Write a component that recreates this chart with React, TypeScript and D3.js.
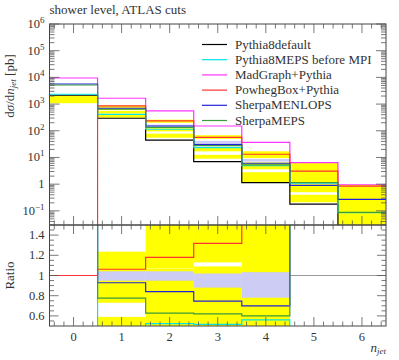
import React from "react";
import * as d3 from "d3";

// ---------- data ----------
const bins = [0, 1, 2, 3, 4, 5, 6];
const seriesNames = [
  "Pythia8default",
  "Pythia8MEPS before MPI",
  "MadGraph+Pythia",
  "PowhegBox+Pythia",
  "SherpaMENLOPS",
  "SherpaMEPS",
];
const seriesColors = ["#000000", "#00e6e6", "#ff33ff", "#ff3333", "#2222dd", "#3d9a3d"];

const pythia8default = [2140, 294, 45, 7.0, 1.14, 0.18, 0];
const pythia8meps = [2330, 415, 114, 23.3, 4.9, 1.1, 0.085];
const madgraph = [9500, 1650, 552, 151, 36.5, 6.4, 0.95];
const powheg = [0, 850, 233, 57, 13.2, 3.1, 0.85];
const sherpaMenlops = [5660, 697, 151, 31, 6.07, 0.9, 0.27];
const sherpaMeps = [5190, 639, 135, 28, 5.24, 1.14, 0.087];

// main-panel uncertainty bands, [lo, hi] per bin
const mainYellow1: ([number, number] | null)[] = [[1080, 2050], [600, 880], [200, 260], [50, 68], [9.5, 17], [1.2, 6.4], [0.02, 0.95]];
const mainYellow2: ([number, number] | null)[] = [null, [440, 560], [95, 125], [17, 24], [3.6, 6.5], [0.5, 1.0], null];
const mainYellow3: ([number, number] | null)[] = [null, [310, 400], [55, 78], [9, 12.5], [1.2, 2.8], [0.21, 0.4], null];
const mainLavender: ([number, number] | null)[] = [null, [650, 720], [140, 170], [35, 42], [7, 8.8], null, null];

// ratio panel (values outside 0.5..1.5 are clipped)
const ratioPythia8meps = [2, 0.48, 0.524, 0.517, 0.56, 0, 0];
const ratioPowheg = [1, 1.062, 1.18, 1.318, 2, 2, 2];
const ratioSherpaMenlops = [2, 0.928, 0.84, 0.747, 0.7, 2, 2];
const ratioSherpaMeps = [2, 0.776, 0.628, 0.62, 0.6, 2, 2];
const ratioReference: (number | null)[] = [null, null, null, null, null, 1, 1];
const ratioYellow1: ([number, number] | null)[] = [null, [0.73, 1.236], [0.4, 1.064], [0.4, 1.09], [0.4, 1.6], null, null];
const ratioYellow2: ([number, number] | null)[] = [null, [0.4, 0.59], [1.068, 1.6], [1.13, 1.6], null, null, null];
const ratioLavender: ([number, number] | null)[] = [null, [0.948, 1.042], [0.948, 1.042], [0.88, 1.02], [0.78, 1.033], null, null];

const mainDecades = [-1, 0, 1, 2, 3, 4, 5, 6];
const ratioTickLabels = [0.6, 0.8, 1, 1.2, 1.4];

// ---------- layout ----------
const W = 399, H = 360;
const L = 49.5, R = 386;
const mainTop = 24, mainBottom = 225, ratioBottom = 326;
const FONT = "Liberation Serif, Times New Roman, serif";

const x = d3.scaleLinear().domain([-0.5, 6.5]).range([L, R]);
const yMain = d3.scaleLog().domain([Math.pow(10, -1.53), 1e6]).range([mainBottom, mainTop]);
const yRatio = d3.scaleLinear().domain([0.5, 1.5]).range([ratioBottom, mainBottom]);

function stepPath(vals: number[], y: (v: number) => number) {
  let d = "";
  vals.forEach((v, i) => {
    const x0 = x(bins[i] - 0.5), x1 = x(bins[i] + 0.5);
    const yy = y(v);
    d += (i === 0 ? `M${x0},${yy}` : `L${x0},${yy}`) + `L${x1},${yy}`;
  });
  return d;
}
const yMainSafe = (v: number) => (v > 0 ? yMain(v) : mainBottom + 50);
const yRatioSafe = (v: number) => Math.max(mainBottom - 50, Math.min(ratioBottom + 50, yRatio(v)));

function bandRects(band: ([number, number] | null)[], y: (v: number) => number, fill: string, key: string) {
  return band.map((b, i) =>
    b ? (
      <rect key={key + i} x={x(bins[i] - 0.5)} width={x(bins[i] + 0.5) - x(bins[i] - 0.5)}
        y={y(b[1])} height={y(b[0]) - y(b[1])} fill={fill} />
    ) : null
  );
}

export default function App() {
  const mainSeries = [pythia8default, pythia8meps, madgraph, powheg, sherpaMenlops, sherpaMeps];
  const ratioSeries: [number[], string][] = [
    [ratioPythia8meps, seriesColors[1]],
    [ratioPowheg, seriesColors[3]],
    [ratioSherpaMenlops, seriesColors[4]],
    [ratioSherpaMeps, seriesColors[5]],
  ];

  // ticks
  const xMinor = d3.range(-0.4, 6.5, 0.2).filter((t) => Math.abs(t - Math.round(t)) > 0.01);
  const xMajor = d3.range(0, 7, 1);
  const yMinor: number[] = [];
  for (let dd = -2; dd < 6; dd++) for (let k = 2; k <= 9; k++) {
    const v = k * Math.pow(10, dd);
    if (v > yMain.domain()[0] && v < 1e6) yMinor.push(v);
  }
  const rMinor = d3.range(0.55, 1.5, 0.05).filter((t) => Math.abs(t * 5 - Math.round(t * 5)) > 0.01);
  const rMajor = d3.range(0.6, 1.5, 0.2);

  const tickColor = "#555";
  const xTicks = (yEdge: number, dir: number, key: string) => (
    <g key={key} stroke={tickColor} strokeWidth={0.8}>
      {xMajor.map((t) => <line key={"M" + t} x1={x(t)} x2={x(t)} y1={yEdge} y2={yEdge + dir * 9} />)}
      {xMinor.map((t) => <line key={"m" + t} x1={x(t)} x2={x(t)} y1={yEdge} y2={yEdge + dir * 4.5} />)}
    </g>
  );

  const legendY0 = 44.5, legendDy = 15.2;
  const txt = "#333";

  return (
    <svg width={W} height={H} style={{ position: "absolute", left: 0, top: 0, background: "#fff", fontFamily: FONT }}>
      <defs>
        <clipPath id="clipMain"><rect x={L} y={mainTop} width={R - L} height={mainBottom - mainTop} /></clipPath>
        <clipPath id="clipRatio"><rect x={L} y={mainBottom} width={R - L} height={ratioBottom - mainBottom} /></clipPath>
      </defs>

      <text x={L} y={14} fontSize={13} fill={txt}>shower level, ATLAS cuts</text>

      {/* main panel */}
      <g clipPath="url(#clipMain)">
        {bandRects(mainYellow1, yMain, "#ffff00", "a")}
        {bandRects(mainYellow2, yMain, "#ffff00", "b")}
        {bandRects(mainYellow3, yMain, "#ffff00", "c")}
        {bandRects(mainLavender, yMain, "#ccccf4", "d")}
        {mainSeries.map((s, i) => (
          <path key={"s" + i} d={stepPath(s, yMainSafe)} fill="none" stroke={seriesColors[i]} strokeWidth={1.2} />
        ))}
      </g>

      {/* ratio panel */}
      <g clipPath="url(#clipRatio)">
        {bandRects(ratioYellow1, yRatio, "#ffff00", "ra")}
        {bandRects(ratioYellow2, yRatio, "#ffff00", "rb")}
        {bandRects(ratioLavender, yRatio, "#ccccf4", "rc")}
        {ratioReference.map((v, i) => v === null ? null : (
          <line key={"ref" + i} x1={x(bins[i] - 0.5)} x2={x(bins[i] + 0.5)} y1={yRatio(v)} y2={yRatio(v)} stroke="#999" strokeWidth={1} />
        ))}
        {ratioSeries.map(([s, c], i) => (
          <path key={"r" + i} d={stepPath(s, yRatioSafe)} fill="none" stroke={c} strokeWidth={1.2} />
        ))}
      </g>

      {/* frames */}
      <rect x={L} y={mainTop} width={R - L} height={mainBottom - mainTop} fill="none" stroke="#444" strokeWidth={1} />
      <rect x={L} y={mainBottom} width={R - L} height={ratioBottom - mainBottom} fill="none" stroke="#444" strokeWidth={1} />

      {/* x ticks */}
      {xTicks(mainTop, 1, "t1")}
      {xTicks(mainBottom, -1, "t2")}
      {xTicks(mainBottom, 1, "t3")}
      {xTicks(ratioBottom, -1, "t4")}

      {/* y ticks */}
      <g stroke={tickColor} strokeWidth={0.8}>
        {mainDecades.map((dd) => (
          <g key={"yd" + dd}>
            <line x1={L} x2={L + 10} y1={yMain(Math.pow(10, dd))} y2={yMain(Math.pow(10, dd))} />
            <line x1={R} x2={R - 10} y1={yMain(Math.pow(10, dd))} y2={yMain(Math.pow(10, dd))} />
          </g>
        ))}
        {yMinor.map((v, i) => (
          <g key={"ym" + i}>
            <line x1={L} x2={L + 5} y1={yMain(v)} y2={yMain(v)} />
            <line x1={R} x2={R - 5} y1={yMain(v)} y2={yMain(v)} />
          </g>
        ))}
        {rMajor.map((t) => (
          <g key={"rM" + t}>
            <line x1={L} x2={L + 9} y1={yRatio(t)} y2={yRatio(t)} />
            <line x1={R} x2={R - 9} y1={yRatio(t)} y2={yRatio(t)} />
          </g>
        ))}
        {rMinor.map((t) => (
          <g key={"rm" + t}>
            <line x1={L} x2={L + 4.5} y1={yRatio(t)} y2={yRatio(t)} />
            <line x1={R} x2={R - 4.5} y1={yRatio(t)} y2={yRatio(t)} />
          </g>
        ))}
      </g>

      {/* main y tick labels */}
      <g fontSize={12.5} fill={txt} textAnchor="end">
        {mainDecades.map((dd) => (
          <text key={"yl" + dd} x={L - 5} y={yMain(Math.pow(10, dd)) + 4}>
            {dd === 0 ? "1" : (
              <>
                10<tspan fontSize={9} dy={-5}>{dd === -1 ? "\u22121" : String(dd)}</tspan>
              </>
            )}
          </text>
        ))}
      </g>

      {/* ratio y tick labels */}
      <g fontSize={12.5} fill={txt} textAnchor="end">
        {ratioTickLabels.map((t) => (
          <text key={"rl" + t} x={L - 5} y={yRatio(t) + 4}>{String(t)}</text>
        ))}
      </g>

      {/* x tick labels */}
      <g fontSize={12.5} fill={txt} textAnchor="middle">
        {xMajor.map((t) => (
          <text key={"xl" + t} x={x(t)} y={341}>{String(t)}</text>
        ))}
      </g>
      <text x={R} y={352} fontSize={13} fill={txt} textAnchor="end">
        <tspan fontStyle="italic">n</tspan><tspan fontSize={9} fontStyle="italic" dy={2}>jet</tspan>
      </text>

      {/* y labels */}
      <text transform={`translate(14,86) rotate(-90)`} fontSize={13} fill={txt} textAnchor="middle">
        d<tspan fontStyle="italic">σ</tspan>/d<tspan fontStyle="italic">n</tspan>
        <tspan fontSize={9} fontStyle="italic" dy={2}>jet</tspan><tspan dy={-2}> [pb]</tspan>
      </text>
      <text transform={`translate(14,${yRatio(1)}) rotate(-90)`} fontSize={13} fill={txt} textAnchor="middle">Ratio</text>

      {/* legend */}
      <g fontSize={13} fill={txt}>
        {seriesNames.map((n, i) => (
          <g key={"lg" + i}>
            <line x1={202} x2={227} y1={legendY0 + i * legendDy} y2={legendY0 + i * legendDy}
              stroke={seriesColors[i]} strokeWidth={1.2} />
            <text x={235} y={legendY0 + i * legendDy + 4}>{n}</text>
          </g>
        ))}
      </g>
    </svg>
  );
}
